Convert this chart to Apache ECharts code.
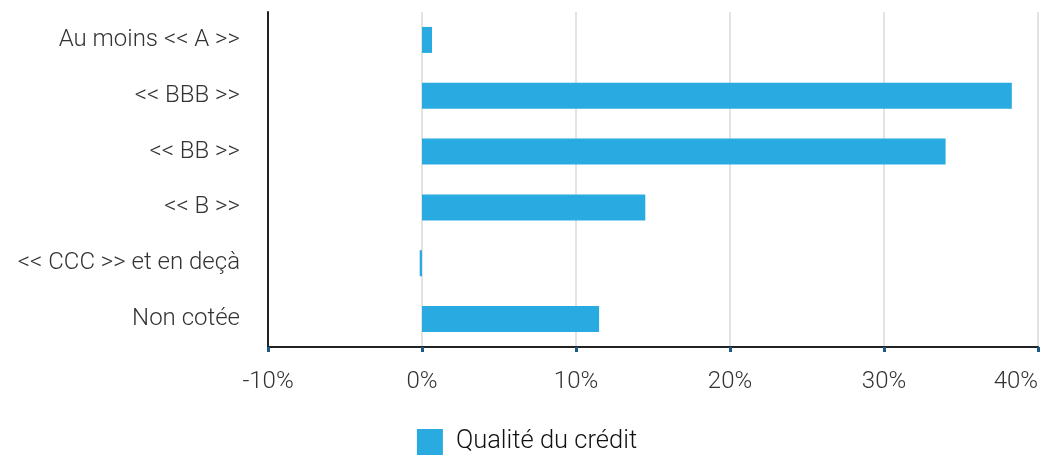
<!DOCTYPE html>
<html>
<head>
<meta charset="utf-8">
<script src="https://cdn.jsdelivr.net/npm/echarts@6/dist/echarts.min.js"></script>
<style>
html, body { margin: 0; padding: 0; background: #fff; }
#chart { width: 1054px; height: 457px; }
</style>
</head>
<body>
<div id="chart"></div>
<script>
// données
const categories = ['Au moins << A >>', '<< BBB >>', '<< BB >>', '<< B >>', '<< CCC >> et en deçà', 'Non cotée'];
const creditQuality = [0.65, 38.3, 34.0, 14.5, -0.15, 11.5];
const seriesName = 'Qualité du crédit';

const font = 'Roboto, "Noto Sans", sans-serif';

const chart = echarts.init(document.getElementById('chart'));
chart.setOption({
    animation: false,
    textStyle: { fontFamily: font },
    grid: { left: 268, right: 16, top: 12, bottom: 110, outerBoundsMode: 'none', containLabel: false },
    legend: {
        bottom: -3,
        left: 'center',
        itemWidth: 26,
        itemHeight: 26,
        itemGap: 13,
        icon: 'rect',
        data: [seriesName],
        textStyle: { fontSize: 25.5, fontWeight: 300, color: '#111', fontFamily: font, padding: [0, 0, 0, 8] }
    },
    xAxis: {
        type: 'value',
        min: -10,
        max: 40,
        interval: 10,
        axisLine: { show: true, lineStyle: { color: '#222', width: 2 } },
        axisTick: { show: true, length: 5, lineStyle: { color: '#1d5a85', width: 3 } },
        splitLine: { show: true, lineStyle: { color: '#e3e3e3', width: 2 } },
        axisLabel: {
            margin: 23,
            fontSize: 24,
            fontWeight: 300,
            color: '#333',
            alignMaxLabel: 'right',
            formatter: v => v + '%'
        }
    },
    yAxis: {
        type: 'category',
        inverse: true,
        data: categories,
        axisLine: { show: true, onZero: false, lineStyle: { color: '#222', width: 2 } },
        axisTick: { show: false },
        axisLabel: { margin: 28, fontSize: 24, fontWeight: 300, color: '#333' }
    },
    series: [{
        name: seriesName,
        type: 'bar',
        data: creditQuality,
        barWidth: 26,
        itemStyle: { color: '#29abe2' }
    }]
});
</script>
</body>
</html>
